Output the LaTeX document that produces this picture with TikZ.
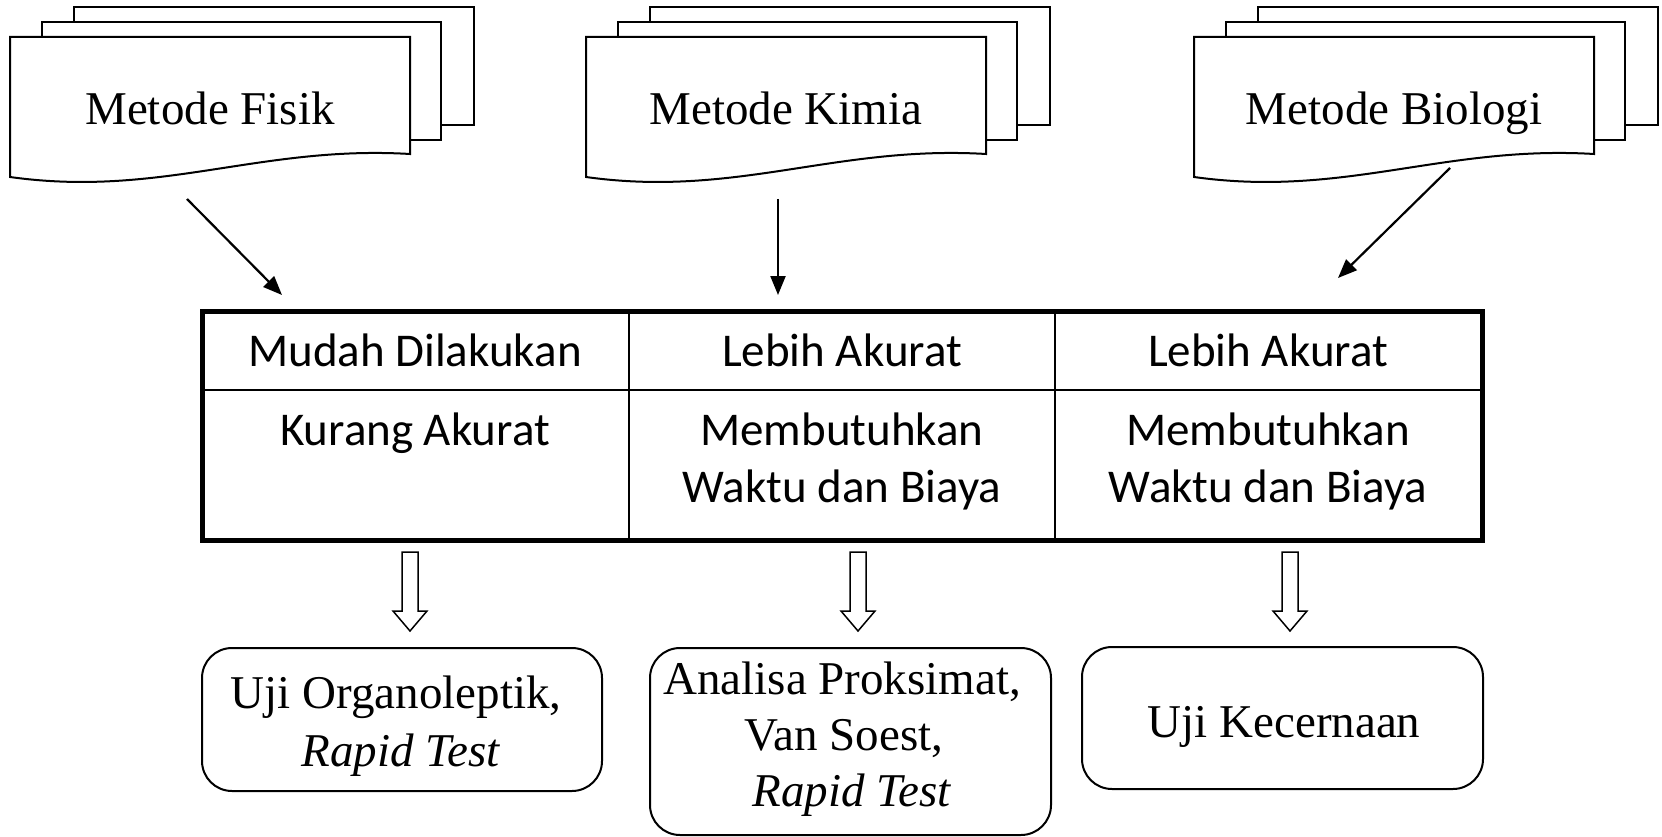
\documentclass[tikz,border=0pt]{standalone}
\usepackage{fontspec}
\setmainfont{Liberation Serif}
\newfontfamily\calibfont{Carlito}
\usetikzlibrary{arrows.meta}
\tikzset{
 docline/.style={draw=black, line width=2pt, fill=white, line join=miter},
 doctext/.style={anchor=base, inner sep=0pt, font=\fontsize{47}{56}\selectfont},
 cell/.style={anchor=base, inner sep=0pt, font=\calibfont\fontsize{47}{57}\selectfont},
 linkarrow/.style={line width=2.2pt, -{Triangle[length=19pt,width=15pt]}},
 outerrule/.style={line width=5pt},
 innerrule/.style={line width=2.5pt},
 hollow/.style={draw=black, line width=1.5pt, fill=white, line join=miter},
 resultbox/.style={draw=black, line width=2pt, rounded corners=30pt, inner sep=0pt},
 boxtext/.style={anchor=base, inner sep=0pt, font=\fontsize{47}{56}\selectfont},
}
\newcommand\docstack[3]{%
 \begin{scope}[xshift=#2pt]
 \draw[docline] (64,7) rectangle (464,125);
 \draw[docline] (32,22) rectangle (431,140);
 \draw[docline] (0,37) -- (400,37) -- (400,154) .. controls (250,145) and (150,198) .. (0,177) -- cycle;
 \node[doctext] (#1) at (200,125) {#3};
 \end{scope}}
\newcommand\hollowarrow[1]{%
 \draw[hollow] (#1-8,552) -- (#1+8,552) -- (#1+8,611) -- (#1+17,611) -- (#1,631) -- (#1-17,611) -- (#1-8,611) -- cycle;}
\begin{document}
\begin{tikzpicture}[x=1pt,y=-1pt]
\useasboundingbox (0,0) rectangle (1662,837);
% document stacks
\docstack{fisik}{10}{Metode Fisik}
\docstack{kimia}{586}{Metode Kimia}
\docstack{biologi}{1194}{Metode Biologi}
% connector end points
\coordinate (fisikOut) at (187,199);
\coordinate (fisikIn) at (282,295);
\coordinate (kimiaOut) at (778,199);
\coordinate (kimiaIn) at (778,295);
\coordinate (biologiOut) at (1450,168);
\coordinate (biologiIn) at (1338,278);
\draw[linkarrow] (fisikOut) -- (fisikIn);
\draw[linkarrow] (kimiaOut) -- (kimiaIn);
\draw[linkarrow] (biologiOut) -- (biologiIn);
% table
\draw[innerrule] (202,390) -- (1482,390);
\draw[innerrule] (629,311) -- (629,540);
\draw[innerrule] (1055,311) -- (1055,540);
\draw[outerrule] (202,311) rectangle (1482,540);
\node[cell] (c11) at (415,366) {Mudah Dilakukan};
\node[cell] (c12) at (842,366) {Lebih Akurat};
\node[cell] (c13) at (1268,366) {Lebih Akurat};
\node[cell] (c21) at (415,445) {Kurang Akurat};
\node[cell] (c22a) at (842,445) {Membutuhkan};
\node[cell] (c22b) at (842,502) {Waktu dan Biaya};
\node[cell] (c23a) at (1268,445) {Membutuhkan};
\node[cell] (c23b) at (1268,502) {Waktu dan Biaya};
% hollow arrows
\hollowarrow{410}
\hollowarrow{858}
\hollowarrow{1290}
% result boxes
\node[resultbox, minimum width=400pt, minimum height=143pt] (fisikbox) at (402,719.5) {};
\node[boxtext] (fisikt1) at (402,708) {Uji Organoleptik,\hspace*{.25em}};
\node[boxtext] (fisikt2) at (401,766) {\textit{Rapid Test}};
\node[resultbox, minimum width=401pt, minimum height=187pt] (kimiabox) at (850.5,741.5) {};
\node[boxtext] (kimiat1) at (848,694) {Analisa Proksimat,\hspace*{.25em}};
\node[boxtext] (kimiat2) at (850,750) {Van Soest,\hspace*{.25em}};
\node[boxtext] (kimiat3) at (852,806) {\textit{Rapid Test}};
\node[resultbox, minimum width=401pt, minimum height=142pt] (biologibox) at (1282.5,718) {};
\node[boxtext] (biologit1) at (1284,737) {Uji Kecernaan};
\end{tikzpicture}
\end{document}
